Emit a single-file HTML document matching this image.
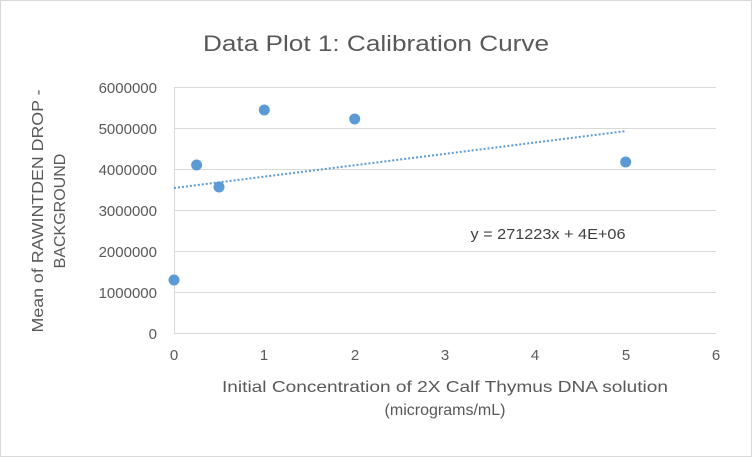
<!DOCTYPE html>
<html><head><style>
body{margin:0;background:#fff;}
svg{display:block;font-family:"Liberation Sans",sans-serif;}
</style></head><body>
<svg width="752" height="457" viewBox="0 0 752 457">
<rect x="0.5" y="0.5" width="751" height="456" fill="#fff" stroke="#d9d9d9"/>
<text x="376" y="51" text-anchor="middle" font-size="22" fill="#595959" textLength="346" lengthAdjust="spacingAndGlyphs">Data Plot 1: Calibration Curve</text>
<g stroke="#d9d9d9" stroke-width="1">
<line x1="174" y1="87.5" x2="716" y2="87.5"/>
<line x1="174" y1="128.5" x2="716" y2="128.5"/>
<line x1="174" y1="169.5" x2="716" y2="169.5"/>
<line x1="174" y1="210.5" x2="716" y2="210.5"/>
<line x1="174" y1="251.5" x2="716" y2="251.5"/>
<line x1="174" y1="292.5" x2="716" y2="292.5"/>
<line x1="174" y1="333.5" x2="716" y2="333.5"/>
<line x1="174.5" y1="87" x2="174.5" y2="333"/>
</g>
<g font-size="15" fill="#595959" text-anchor="end">
<text x="157" y="93">6000000</text>
<text x="157" y="134">5000000</text>
<text x="157" y="175">4000000</text>
<text x="157" y="216">3000000</text>
<text x="157" y="257">2000000</text>
<text x="157" y="298">1000000</text>
<text x="157" y="339">0</text>
</g>
<g font-size="15" fill="#595959" text-anchor="middle">
<text x="174" y="360">0</text>
<text x="264" y="360">1</text>
<text x="355" y="360">2</text>
<text x="445" y="360">3</text>
<text x="535" y="360">4</text>
<text x="626" y="360">5</text>
<text x="716" y="360">6</text>
</g>
<text x="445" y="392" text-anchor="middle" font-size="16" fill="#595959" textLength="446" lengthAdjust="spacingAndGlyphs">Initial Concentration of 2X Calf Thymus DNA solution</text>
<text x="445" y="415" text-anchor="middle" font-size="16" fill="#595959">(micrograms/mL)</text>
<text transform="translate(43,211) rotate(-90)" text-anchor="middle" font-size="16" fill="#595959" textLength="243" lengthAdjust="spacingAndGlyphs">Mean of RAWINTDEN DROP -</text>
<text transform="translate(65,211) rotate(-90)" text-anchor="middle" font-size="16" fill="#595959">BACKGROUND</text>
<line x1="174" y1="188" x2="626" y2="131" stroke="#5b9bd5" stroke-width="2" stroke-dasharray="2,2"/>
<g fill="#5b9bd5">
<circle cx="174" cy="280" r="5.5"/>
<circle cx="196.6" cy="165" r="5.5"/>
<circle cx="219" cy="187" r="5.5"/>
<circle cx="264.3" cy="110" r="5.5"/>
<circle cx="354.7" cy="119" r="5.5"/>
<circle cx="625.7" cy="162" r="5.5"/>
</g>
<text x="548" y="239" text-anchor="middle" font-size="15" fill="#404040" textLength="155" lengthAdjust="spacingAndGlyphs">y = 271223x + 4E+06</text>
</svg>
</body></html>
